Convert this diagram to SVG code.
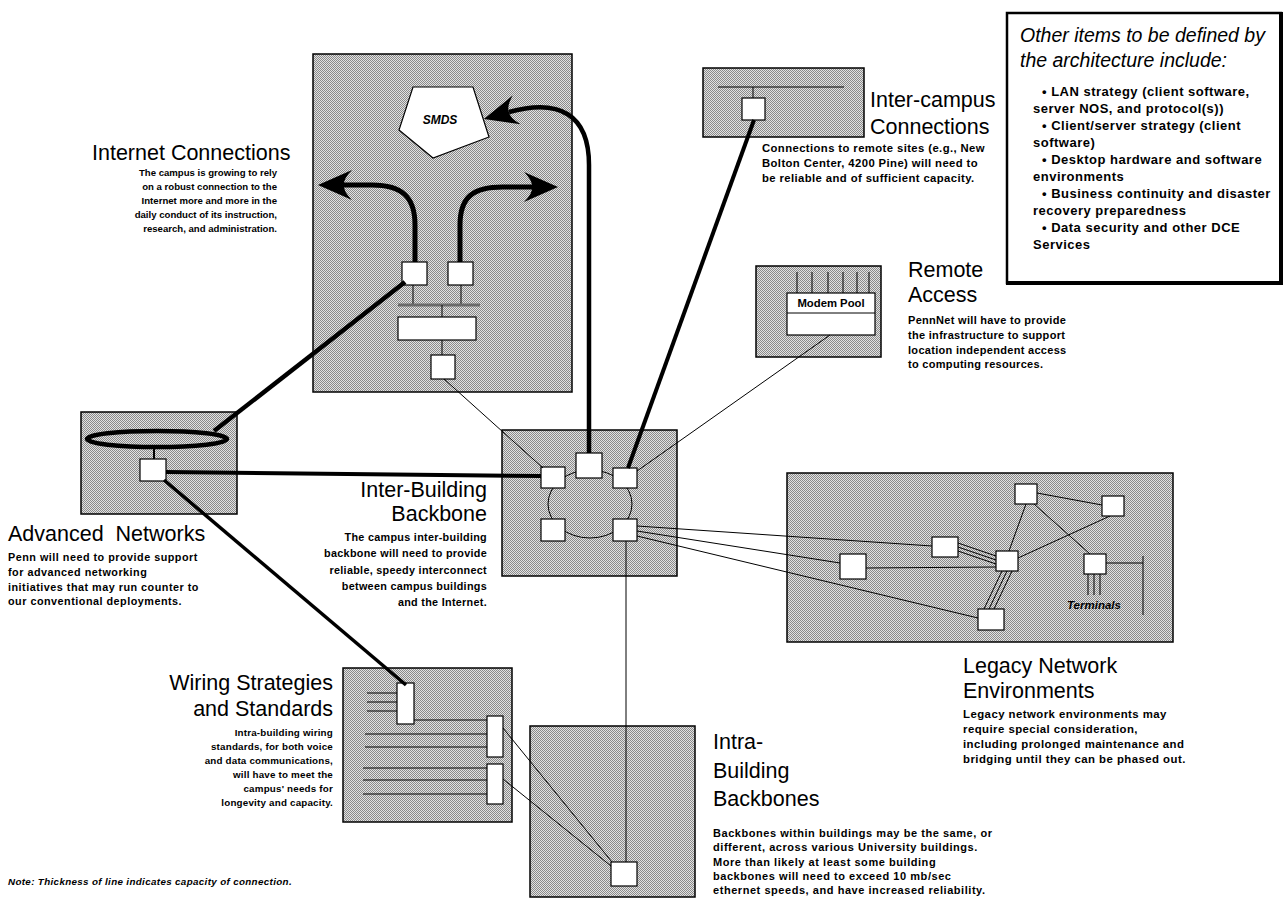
<svg xmlns="http://www.w3.org/2000/svg" width="1287" height="900" viewBox="0 0 1287 900">
  <defs>
    <!-- halftone screen used for every zone -->
    <pattern id="dither" width="2" height="2" patternUnits="userSpaceOnUse">
      <rect width="2" height="2" fill="#e2e2e2"/>
      <rect width="1" height="1" fill="#8a8a8a"/>
      <rect x="1" y="1" width="1" height="1" fill="#8a8a8a"/>
    </pattern>
    <!-- swept-back heavy arrowhead -->
    <marker id="barb" markerUnits="userSpaceOnUse" markerWidth="40" markerHeight="36" viewBox="-12 -18 40 36" refX="0" refY="0" orient="auto" overflow="visible">
      <path d="M26 0 L-8 -15 Q1 -6 0 0 Q1 6 -8 15 Z" fill="#000"/>
    </marker>
    <style>
      .zone { fill: url(#dither); stroke: #000; stroke-width: 1.5; }
      .dev { fill: #fff; stroke: #000; stroke-width: 1.2; }
      .thin { fill: none; stroke: #000; stroke-width: 1; }
      .heavy { fill: none; stroke: #000; stroke-linecap: butt; }
      .title { font-family: "Liberation Sans", Arial, sans-serif; font-size: 21.5px; fill: #000; }
      .body { font-family: "Liberation Sans", Arial, sans-serif; font-weight: bold; fill: #000; }
      .end { text-anchor: end; }
    </style>
  </defs>

  <rect width="1287" height="900" fill="#fff"/>

  <!-- Internet connections zone -->
  <g id="internet">
    <rect class="zone" x="313" y="54" width="259" height="338"/>
    <polygon points="413,87 473,87 489,137 433,158 399,130" fill="#fff" stroke="#000" stroke-width="1.2"/>
    <text x="440" y="124" text-anchor="middle" font-family="Liberation Sans, Arial, sans-serif" font-size="12" font-weight="bold" font-style="italic">SMDS</text>
    <line x1="413" y1="285" x2="413" y2="305" class="thin"/>
    <line x1="461" y1="285" x2="461" y2="305" class="thin"/>
    <line x1="398" y1="305" x2="480" y2="305" stroke="#6a6a6a" stroke-width="3"/>
    <line x1="442" y1="305" x2="442" y2="317" class="thin"/>
    <rect class="dev" x="398" y="317" width="78" height="23"/>
    <line x1="442" y1="340" x2="442" y2="355" class="thin"/>
    <rect class="dev" x="402" y="262" width="25" height="23"/>
    <rect class="dev" x="448" y="262" width="25" height="23"/>
    <rect class="dev" x="431" y="355" width="24" height="24"/>
    <text class="title" x="92" y="160">Internet Connections</text>
    <g class="body end" font-size="9.6">
      <text x="277" y="176">The campus is growing to rely</text>
      <text x="277" y="190">on a robust connection to the</text>
      <text x="277" y="204">Internet more and more in the</text>
      <text x="277" y="218">daily conduct of its instruction,</text>
      <text x="277" y="232">research, and administration.</text>
    </g>
  </g>

  <!-- Inter-campus connections zone -->
  <g id="intercampus">
    <rect class="zone" x="703" y="68" width="161" height="69"/>
    <line x1="718" y1="87" x2="844" y2="87" class="thin"/>
    <line x1="753" y1="87" x2="753" y2="98" class="thin"/>
    <rect class="dev" x="742" y="98" width="23" height="22"/>
    <text class="title" x="870" y="107">Inter-campus</text>
    <text class="title" x="870" y="134">Connections</text>
    <g class="body" font-size="11.3" letter-spacing="0.4">
      <text x="762" y="152">Connections to remote sites (e.g., New</text>
      <text x="762" y="167">Bolton Center, 4200 Pine) will need to</text>
      <text x="762" y="182">be reliable and of sufficient capacity.</text>
    </g>
  </g>

  <!-- Other architecture items -->
  <g id="other-items">
    <rect x="1007" y="13" width="274" height="270" fill="#fff" stroke="#000" stroke-width="2.5"/>
    <line x1="1281" y1="12" x2="1281" y2="285" stroke="#000" stroke-width="4"/>
    <line x1="1006" y1="283" x2="1283" y2="283" stroke="#000" stroke-width="4"/>
    <g font-family="Liberation Sans, Arial, sans-serif" font-size="19.5" font-style="italic">
      <text x="1020" y="42">Other items to be defined by</text>
      <text x="1020" y="67">the architecture include:</text>
    </g>
    <g class="body" font-size="13" letter-spacing="0.5">
      <text x="1042" y="96">• LAN strategy (client software,</text>
      <text x="1033" y="113">server NOS, and protocol(s))</text>
      <text x="1042" y="130">• Client/server strategy (client</text>
      <text x="1033" y="147">software)</text>
      <text x="1042" y="164">• Desktop hardware and software</text>
      <text x="1033" y="181">environments</text>
      <text x="1042" y="198">• Business continuity and disaster</text>
      <text x="1033" y="215">recovery preparedness</text>
      <text x="1042" y="232">• Data security and other DCE</text>
      <text x="1033" y="249">Services</text>
    </g>
  </g>

  <!-- Remote access zone -->
  <g id="remote">
    <rect class="zone" x="756" y="266" width="125" height="91"/>
    <g class="thin">
      <line x1="797" y1="272" x2="797" y2="293"/>
      <line x1="812" y1="272" x2="812" y2="293"/>
      <line x1="828" y1="272" x2="828" y2="293"/>
      <line x1="843" y1="272" x2="843" y2="293"/>
      <line x1="857" y1="272" x2="857" y2="293"/>
      <line x1="869" y1="272" x2="869" y2="293"/>
    </g>
    <rect class="dev" x="787" y="293" width="88" height="42"/>
    <line x1="787" y1="313" x2="875" y2="313" class="thin"/>
    <text class="body" x="831" y="307" font-size="11.3" text-anchor="middle">Modem Pool</text>
    <text class="title" x="908" y="277">Remote</text>
    <text class="title" x="908" y="302">Access</text>
    <g class="body" font-size="11" letter-spacing="0.3">
      <text x="908" y="324">PennNet will have to provide</text>
      <text x="908" y="339">the infrastructure to support</text>
      <text x="908" y="354">location independent access</text>
      <text x="908" y="368">to computing resources.</text>
    </g>
  </g>

  <!-- Advanced networks zone -->
  <g id="advanced">
    <rect class="zone" x="81" y="412" width="156" height="102"/>
    <line x1="154" y1="447" x2="154" y2="459" stroke="#000" stroke-width="2"/>
    <ellipse cx="157" cy="439" rx="70" ry="8" fill="none" stroke="#000" stroke-width="4.5"/>
    <rect class="dev" x="140" y="459" width="26" height="22"/>
    <text class="title" x="8" y="541" font-size="22" xml:space="preserve">Advanced  Networks</text>
    <g class="body" font-size="10.8" letter-spacing="0.5">
      <text x="8" y="561">Penn will need to provide support</text>
      <text x="8" y="576">for advanced networking</text>
      <text x="8" y="591">initiatives that may run counter to</text>
      <text x="8" y="605">our conventional deployments.</text>
    </g>
  </g>

  <!-- Inter-building backbone zone -->
  <g id="interbuilding">
    <rect class="zone" x="502" y="430" width="175" height="146"/>
    <ellipse cx="590" cy="504" rx="42" ry="34" class="thin"/>
    <rect class="dev" x="541" y="467" width="24" height="21"/>
    <rect class="dev" x="576" y="453" width="26" height="25"/>
    <rect class="dev" x="613" y="468" width="24" height="20"/>
    <rect class="dev" x="541" y="519" width="24" height="22"/>
    <rect class="dev" x="613" y="519" width="24" height="22"/>
    <text class="title end" x="487" y="497">Inter-Building</text>
    <text class="title end" x="487" y="521">Backbone</text>
    <g class="body end" font-size="10.8" letter-spacing="0.3">
      <text x="487" y="541">The campus inter-building</text>
      <text x="487" y="557">backbone will need to provide</text>
      <text x="487" y="574">reliable, speedy interconnect</text>
      <text x="487" y="590">between campus buildings</text>
      <text x="487" y="606">and the Internet.</text>
    </g>
  </g>

  <!-- Legacy network environments zone -->
  <g id="legacy">
    <rect class="zone" x="787" y="473" width="386" height="169"/>
    <g class="thin">
      <line x1="1037" y1="493" x2="1102" y2="505"/>
      <line x1="1026" y1="504" x2="1009" y2="551"/>
      <line x1="1034" y1="504" x2="1090" y2="554"/>
      <line x1="1018" y1="558" x2="1110" y2="516"/>
      <line x1="958" y1="543" x2="996" y2="556"/>
      <line x1="958" y1="547" x2="996" y2="560"/>
      <line x1="958" y1="551" x2="996" y2="564"/>
      <line x1="866" y1="568" x2="996" y2="567"/>
      <line x1="1002" y1="571" x2="984" y2="609"/>
      <line x1="1007" y1="571" x2="989" y2="609"/>
      <line x1="1012" y1="571" x2="994" y2="609"/>
      <line x1="1088" y1="574" x2="1088" y2="595"/>
      <line x1="1094" y1="574" x2="1094" y2="595"/>
      <line x1="1100" y1="574" x2="1100" y2="595"/>
      <line x1="1106" y1="563" x2="1143" y2="563"/>
      <line x1="1143" y1="556" x2="1143" y2="615"/>
    </g>
    <rect class="dev" x="1015" y="484" width="22" height="20"/>
    <rect class="dev" x="1102" y="496" width="22" height="20"/>
    <rect class="dev" x="932" y="537" width="26" height="20"/>
    <rect class="dev" x="840" y="554" width="26" height="25"/>
    <rect class="dev" x="996" y="551" width="22" height="20"/>
    <rect class="dev" x="1084" y="554" width="22" height="20"/>
    <rect class="dev" x="978" y="609" width="26" height="21"/>
    <text class="body" x="1067" y="609" font-size="11.5" font-style="italic">Terminals</text>
    <text class="title" x="963" y="673">Legacy Network</text>
    <text class="title" x="963" y="698">Environments</text>
    <g class="body" font-size="11.4" letter-spacing="0.45">
      <text x="963" y="718">Legacy network environments may</text>
      <text x="963" y="733">require special consideration,</text>
      <text x="963" y="748">including prolonged maintenance and</text>
      <text x="963" y="763">bridging until they can be phased out.</text>
    </g>
  </g>

  <!-- Wiring strategies zone -->
  <g id="wiring">
    <rect class="zone" x="343" y="668" width="169" height="154"/>
    <g class="thin">
      <line x1="367" y1="693" x2="397" y2="693"/>
      <line x1="367" y1="702" x2="397" y2="702"/>
      <line x1="367" y1="711" x2="397" y2="711"/>
      <line x1="414" y1="720" x2="487" y2="720"/>
      <line x1="365" y1="734" x2="487" y2="734"/>
      <line x1="365" y1="747" x2="487" y2="747"/>
      <line x1="363" y1="768" x2="487" y2="768"/>
      <line x1="363" y1="780" x2="487" y2="780"/>
      <line x1="363" y1="794" x2="487" y2="794"/>
    </g>
    <rect class="dev" x="397" y="683" width="17" height="41"/>
    <rect class="dev" x="487" y="716" width="16" height="41"/>
    <rect class="dev" x="487" y="764" width="16" height="40"/>
    <text class="title end" x="333" y="690">Wiring Strategies</text>
    <text class="title end" x="333" y="716">and Standards</text>
    <g class="body end" font-size="9.8" letter-spacing="0.2">
      <text x="333" y="736">Intra-building wiring</text>
      <text x="333" y="750">standards, for both voice</text>
      <text x="333" y="764">and data communications,</text>
      <text x="333" y="778">will have to meet the</text>
      <text x="333" y="792">campus' needs for</text>
      <text x="333" y="806">longevity and capacity.</text>
    </g>
  </g>

  <!-- Intra-building backbones zone -->
  <g id="intrabuilding">
    <rect class="zone" x="530" y="726" width="165" height="171"/>
    <rect class="dev" x="611" y="862" width="26" height="24"/>
    <text class="title" x="713" y="749">Intra-</text>
    <text class="title" x="713" y="778">Building</text>
    <text class="title" x="713" y="806">Backbones</text>
    <g class="body" font-size="11" letter-spacing="0.55">
      <text x="713" y="837">Backbones within buildings may be the same, or</text>
      <text x="713" y="851">different, across various University buildings.</text>
      <text x="713" y="866">More than likely at least some building</text>
      <text x="713" y="880">backbones will need to exceed 10 mb/sec</text>
      <text x="713" y="894">ethernet speeds, and have increased reliability.</text>
    </g>
  </g>

  <!-- Links between zones; stroke weight shows link capacity -->
  <g id="connectors">
    <path class="heavy" stroke-width="5" d="M415 262 L415 225 C415 197 402 185 372 185 L344 185" marker-end="url(#barb)"/>
    <path class="heavy" stroke-width="5" d="M460 262 L460 225 C460 197 473 187 503 187 L532 187" marker-end="url(#barb)"/>
    <path class="heavy" stroke-width="4.5" d="M589 453 L589 165 C589 115 560 98 509 112" marker-end="url(#barb)"/>
    <line class="heavy" stroke-width="4.5" x1="214" y1="431" x2="405" y2="282"/>
    <line class="heavy" stroke-width="4" x1="166" y1="472" x2="541" y2="476"/>
    <line class="heavy" stroke-width="3.5" x1="164" y1="480" x2="406" y2="685"/>
    <line class="heavy" stroke-width="4" x1="754" y1="120" x2="628" y2="468"/>
    <line class="thin" x1="444" y1="379" x2="543" y2="468"/>
    <line class="thin" x1="830" y1="335" x2="637" y2="471"/>
    <line class="thin" x1="626" y1="541" x2="626" y2="862"/>
    <line class="thin" x1="637" y1="526" x2="932" y2="546"/>
    <line class="thin" x1="637" y1="531" x2="840" y2="563"/>
    <line class="thin" x1="637" y1="536" x2="978" y2="618"/>
    <line class="thin" x1="503" y1="728" x2="612" y2="862"/>
    <line class="thin" x1="503" y1="779" x2="611" y2="866"/>
  </g>

  <text class="body" x="8" y="885" font-size="9.8" font-style="italic" letter-spacing="0.35">Note: Thickness of line indicates capacity of connection.</text>
</svg>
